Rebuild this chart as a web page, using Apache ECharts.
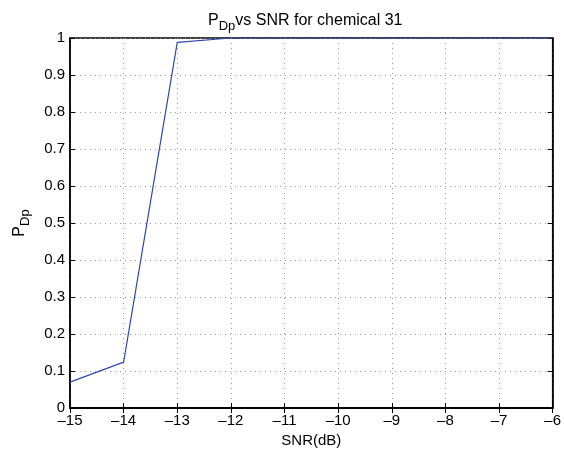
<!DOCTYPE html>
<html><head><meta charset="utf-8">
<script src="https://cdn.jsdelivr.net/npm/echarts@6/dist/echarts.min.js"></script>
<style>html,body{margin:0;padding:0;background:#fff}#c{width:564px;height:456px}</style>
</head><body><div id="c"></div>
<script>
var snr = [-15, -14, -13, -12, -11, -10, -9, -8, -7, -6];
var pdp = [0.07, 0.124, 0.988, 1, 1, 1, 1, 1, 1, 1];
var xTicks = [-15, -14, -13, -12, -11, -10, -9, -8, -7, -6];
var yTicks = [0, 0.1, 0.2, 0.3, 0.4, 0.5, 0.6, 0.7, 0.8, 0.9, 1];

var F = '"Liberation Sans", Arial, Helvetica, sans-serif';
var chart = echarts.init(document.getElementById('c'));
var data = snr.map(function (x, i) { return [x, pdp[i]]; });
var gridLine = { show: true, lineStyle: { color: '#999', type: [1, 4], width: 1 } };
chart.setOption({
  animation: false,
  backgroundColor: '#fff',
  title: {
    text: '{a|P}{b|Dp}{a|vs SNR for chemical 31}',
    left: 203, top: 6,
    textStyle: {
      fontWeight: 'normal',
      rich: {
        a: { fontFamily: F, fontSize: 16, fontWeight: 'normal', color: '#000', lineHeight: 20 },
        b: { fontFamily: F, fontSize: 13, fontWeight: 'normal', color: '#000', padding: [11, 0, 0, 0], lineHeight: 20 }
      }
    }
  },
  grid: { left: 69, right: 9, top: 38, bottom: 48, show: true, borderColor: '#000', borderWidth: 1.5, containLabel: false },
  xAxis: [{
    type: 'value', min: -15, max: -6, interval: 1,
    name: 'SNR(dB)', nameLocation: 'middle', nameGap: 18,
    nameTextStyle: { fontFamily: F, fontSize: 15, color: '#000' },
    axisLine: { show: true, onZero: false, lineStyle: { color: '#000', width: 1.5 } },
    axisTick: { show: true, inside: true, length: 5, lineStyle: { color: '#000' } },
    axisLabel: { fontFamily: F, fontSize: 15, color: '#000', margin: 5, formatter: function (v) { return String(v).replace('-', '\u2013'); } },
    splitLine: gridLine
  }, {
    type: 'value', min: -15, max: -6, interval: 1, position: 'top',
    axisLine: { show: true, lineStyle: { color: '#000', width: 1.5 } },
    axisTick: { show: true, inside: true, length: 5, lineStyle: { color: '#000' } },
    axisLabel: { show: false }, splitLine: { show: false }
  }],
  yAxis: [{
    type: 'value', min: 0, max: 1, interval: 0.1,
    name: '{a|P}{b|Dp}', nameLocation: 'middle', nameGap: 40, nameRotate: 90,
    nameTextStyle: {
      rich: {
        a: { fontFamily: F, fontSize: 16, color: '#000', lineHeight: 20 },
        b: { fontFamily: F, fontSize: 13, color: '#000', padding: [11, 0, 0, 0], lineHeight: 20 }
      }
    },
    axisLine: { show: true, onZero: false, lineStyle: { color: '#000', width: 1.5 } },
    axisTick: { show: true, inside: true, length: 5, lineStyle: { color: '#000' } },
    axisLabel: { fontFamily: F, fontSize: 15, color: '#000', margin: 5, formatter: function (v) { return String(Math.round(v * 10) / 10); } },
    splitLine: gridLine
  }, {
    type: 'value', min: 0, max: 1, interval: 0.1, position: 'right',
    axisLine: { show: true, lineStyle: { color: '#000', width: 1.5 } },
    axisTick: { show: true, inside: true, length: 5, lineStyle: { color: '#000' } },
    axisLabel: { show: false }, splitLine: { show: false }
  }],
  series: [{
    type: 'line', data: data, xAxisIndex: 0, yAxisIndex: 0,
    showSymbol: false, symbol: 'none',
    lineStyle: { color: '#2f48b0', width: 1.2 }
  }]
});
</script></body></html>
